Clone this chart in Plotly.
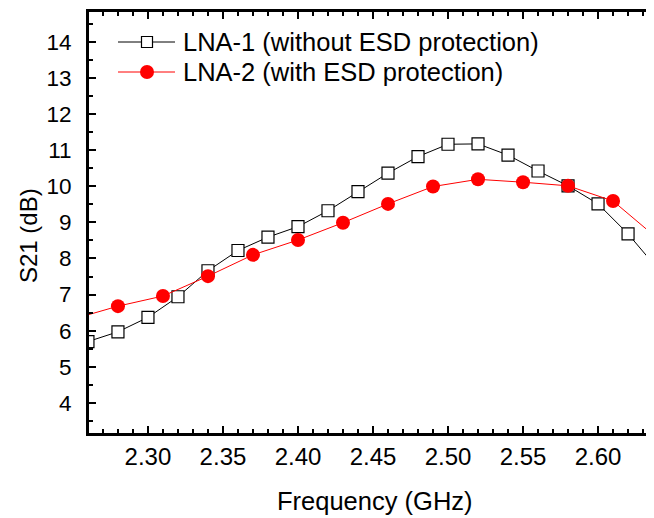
import plotly.graph_objects as go

# ---- data ----
freq_lna1 = [2.26, 2.28, 2.30, 2.32, 2.34, 2.36, 2.38, 2.40, 2.42, 2.44, 2.46,
             2.48, 2.50, 2.52, 2.54, 2.56, 2.58, 2.60, 2.62, 2.64]
s21_lna1 = [5.70, 5.97, 6.37, 6.94, 7.66, 8.22, 8.59, 8.88, 9.32, 9.85, 10.36,
            10.82, 11.16, 11.17, 10.86, 10.42, 10.01, 9.51, 8.68, 7.70]

freq_lna2 = [2.25, 2.28, 2.31, 2.34, 2.37, 2.40, 2.43, 2.46, 2.49, 2.52, 2.55,
             2.58, 2.61, 2.64]
s21_lna2 = [6.32, 6.68, 6.96, 7.51, 8.10, 8.51, 8.99, 9.51, 9.99, 10.19, 10.11,
            10.01, 9.59, 8.54]

series_names = ["LNA-1 (without ESD protection)", "LNA-2 (with ESD protection)"]
x_title = "Frequency (GHz)"
y_title = "S21 (dB)"

FONT = "Liberation Sans, Arial, sans-serif"
PAGE_OFF = 8                     # default body margin of the html page
W, H = 654 - PAGE_OFF, 518 - PAGE_OFF
# plot area in page pixels: x 89..654, y 12..433
ML = 89 - PAGE_OFF
MT = 12 - PAGE_OFF
MR = 0
MB = 518 - 433
PW, PH = W - ML - MR, H - MT - MB


def px(x):  # page pixel -> paper
    return (x - PAGE_OFF - ML) / PW


def py(y):
    return (MT + PH - (y - PAGE_OFF)) / PH


fig = go.Figure()
fig.add_trace(go.Scatter(
    x=freq_lna1, y=s21_lna1, mode="lines+markers", name=series_names[0],
    line=dict(color="black", width=1),
    marker=dict(symbol="square", size=12, color="white",
                line=dict(color="black", width=1.2)),
    showlegend=False))
fig.add_trace(go.Scatter(
    x=freq_lna2, y=s21_lna2, mode="lines+markers", name=series_names[1],
    line=dict(color="#FF0000", width=1),
    marker=dict(symbol="circle", size=14, color="#FF0000",
                line=dict(width=0)),
    showlegend=False))

axis_common = dict(
    showgrid=False, zeroline=False, showline=True, linecolor="black",
    linewidth=3, ticks="inside", ticklen=7, tickwidth=2, tickcolor="black",
)

fig.update_xaxes(
    range=[2.2607, 2.6373], tick0=2.30, dtick=0.05, tickformat=".2f",
    mirror="ticks",
    tickfont=dict(family=FONT, size=24, color="black"),
    minor=dict(dtick=0.01, ticks="inside", ticklen=4, tickwidth=2,
               tickcolor="black"),
    **axis_common)
fig.update_yaxes(
    range=[3.17, 14.82], tick0=0, dtick=1, ticklabelstandoff=10,
    tickfont=dict(family=FONT, size=22.5, color="black"),
    minor=dict(dtick=0.5, ticks="inside", ticklen=4, tickwidth=2,
               tickcolor="black"),
    **axis_common)

shapes = []
annotations = []
# legend (drawn manually)
leg_rows = [(42, "black", "square"), (72, "#FF0000", "circle")]
for (yy, col, sym), name in zip(leg_rows, series_names):
    shapes.append(dict(type="line", xref="paper", yref="paper",
                       x0=px(118), x1=px(175), y0=py(yy), y1=py(yy),
                       line=dict(color=col, width=1)))
    if sym == "square":
        shapes.append(dict(type="rect", xref="paper", yref="paper",
                           xsizemode="pixel", ysizemode="pixel",
                           xanchor=px(147), yanchor=py(yy),
                           x0=-5.5, x1=5.5, y0=-5.5, y1=5.5,
                           fillcolor="white", line=dict(color="black", width=1.2)))
    else:
        shapes.append(dict(type="circle", xref="paper", yref="paper",
                           xsizemode="pixel", ysizemode="pixel",
                           xanchor=px(147), yanchor=py(yy),
                           x0=-7, x1=7, y0=-7, y1=7,
                           fillcolor="#FF0000", line=dict(width=0)))
    annotations.append(dict(text=name, xref="paper", yref="paper",
                            x=px(181), y=py(yy), xanchor="left", yanchor="middle",
                            showarrow=False,
                            font=dict(family=FONT, size=25.5, color="black")))

annotations.append(dict(text=x_title, xref="paper", yref="paper",
                        x=px(374.5), y=py(501), xanchor="center", yanchor="middle",
                        showarrow=False,
                        font=dict(family=FONT, size=25.5, color="black")))
annotations.append(dict(text=y_title, xref="paper", yref="paper",
                        x=px(28), y=py(236), xanchor="center", yanchor="middle",
                        textangle=-90, showarrow=False,
                        font=dict(family=FONT, size=24, color="black")))

fig.update_layout(
    width=W, height=H, margin=dict(l=ML, r=MR, t=MT, b=MB),
    paper_bgcolor="white", plot_bgcolor="white",
    showlegend=False, shapes=shapes, annotations=annotations,
    font=dict(family=FONT, color="black"),
)

fig.write_html("out.html")
